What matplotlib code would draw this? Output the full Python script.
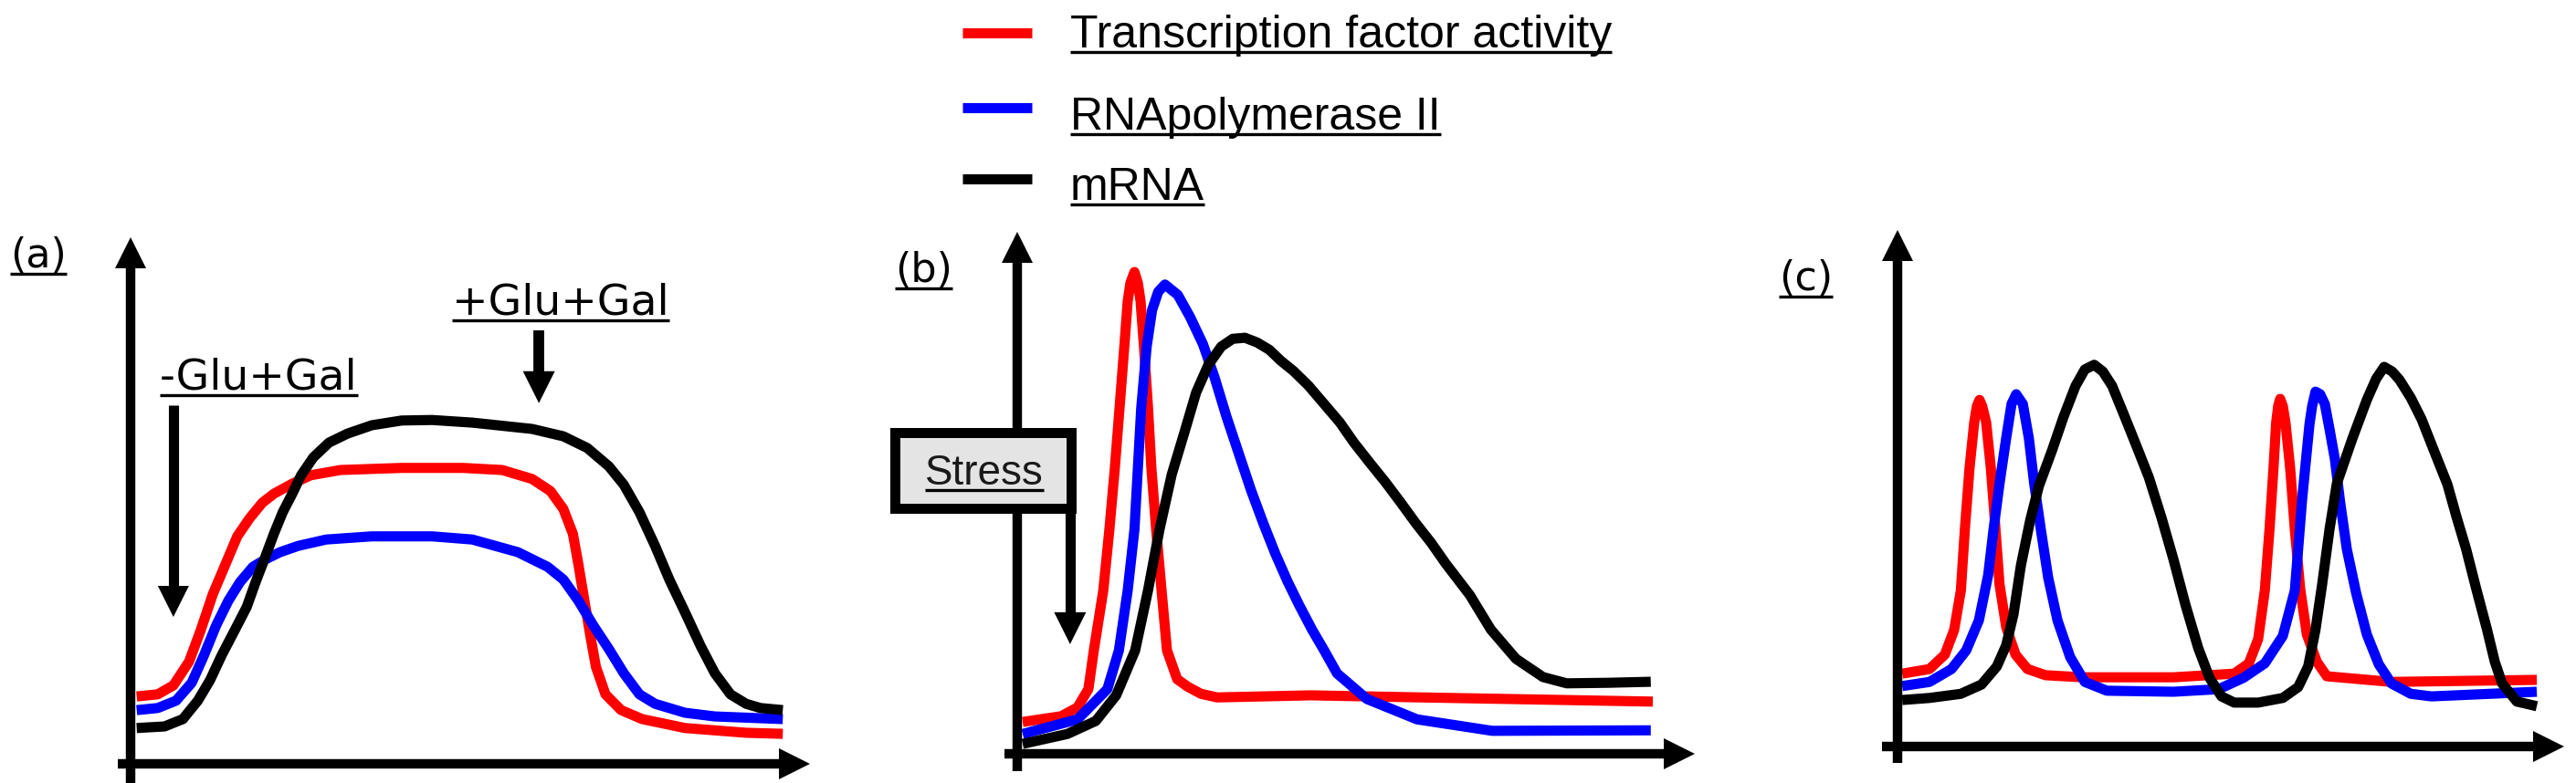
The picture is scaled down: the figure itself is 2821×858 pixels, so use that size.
import matplotlib
matplotlib.use("Agg")
import matplotlib.pyplot as plt
from matplotlib.lines import Line2D
from matplotlib.patches import Rectangle
import numpy as np

# ---- data (time / level, arbitrary units 0-100) ----
# (a) galactose switch
a_t_red = [0.9, 4.0, 6.3, 8.6, 10.3, 12.1, 14.0, 15.7, 17.5, 19.4, 21.1, 23.8, 26.5, 30.9, 39.9, 48.9, 54.7, 59.1, 61.8, 63.7, 65.1, 65.9, 66.8, 67.7, 68.5, 69.9, 72.2, 75.3, 81.6, 90.6, 96.0]
a_v_red = [12.8, 13.2, 14.9, 19.4, 25.3, 32.2, 38.0, 43.2, 46.6, 49.6, 51.3, 53.2, 54.8, 55.8, 56.2, 56.2, 55.8, 54.1, 51.8, 48.4, 43.7, 38.0, 31.0, 24.1, 18.4, 13.2, 10.2, 8.5, 6.8, 5.9, 5.7]
a_t_blue = [0.9, 4.0, 6.7, 9.0, 10.8, 12.6, 14.4, 16.1, 18.0, 19.8, 22.0, 24.7, 28.8, 35.5, 44.4, 50.3, 57.0, 61.4, 63.7, 65.9, 68.1, 70.4, 72.6, 74.9, 77.2, 81.6, 86.0, 96.0]
a_v_blue = [10.2, 10.6, 12.0, 15.4, 20.6, 26.3, 31.0, 34.5, 37.4, 38.8, 40.2, 41.4, 42.6, 43.2, 43.2, 42.6, 40.2, 37.4, 35.0, 31.0, 26.3, 21.8, 17.2, 13.2, 11.4, 9.7, 9.0, 8.5]
a_t_black = [0.9, 5.0, 7.7, 9.9, 11.7, 13.4, 15.3, 17.1, 18.4, 19.8, 21.1, 22.4, 23.8, 25.1, 26.9, 29.2, 31.9, 35.5, 39.9, 44.4, 50.3, 59.1, 63.7, 67.2, 70.4, 72.6, 74.9, 77.2, 79.3, 81.6, 83.9, 86.0, 88.3, 90.6, 92.7, 96.0]
a_v_black = [6.8, 7.1, 8.5, 12.0, 15.9, 20.6, 25.3, 29.8, 34.5, 39.2, 43.7, 47.8, 51.3, 54.8, 58.2, 61.0, 62.7, 64.3, 65.2, 65.3, 64.8, 63.6, 62.2, 60.0, 56.5, 53.0, 47.8, 41.4, 35.0, 28.8, 22.4, 17.2, 13.2, 11.4, 10.6, 10.2]

# (b) stress response
b_t_red = [0.8, 6.5, 8.9, 10.5, 11.3, 12.7, 13.6, 14.4, 15.1, 15.8, 16.3, 16.7, 17.3, 17.8, 18.2, 18.7, 19.3, 19.8, 20.5, 21.3, 22.1, 23.6, 25.1, 27.1, 29.5, 43.3, 59.6, 93.8]
b_v_red = [6.1, 7.2, 8.9, 12.4, 19.8, 31.3, 43.0, 54.7, 66.3, 78.0, 86.7, 90.2, 92.3, 90.2, 86.7, 78.0, 66.3, 54.7, 43.0, 31.3, 19.8, 14.3, 12.9, 11.5, 10.8, 11.2, 10.8, 10.0]
b_t_blue = [0.8, 8.9, 13.3, 15.0, 16.3, 17.3, 17.8, 18.3, 19.1, 19.9, 20.8, 21.8, 23.7, 25.5, 27.4, 29.1, 30.9, 32.7, 34.5, 36.3, 38.1, 39.9, 41.6, 43.5, 45.3, 47.2, 51.6, 59.0, 70.1, 93.5]
b_v_blue = [3.8, 6.6, 12.4, 19.8, 31.3, 43.0, 54.7, 66.3, 78.0, 85.0, 88.5, 89.9, 87.9, 83.7, 78.5, 72.2, 64.5, 57.5, 50.5, 44.2, 38.3, 33.0, 28.5, 23.8, 19.8, 15.4, 10.5, 6.6, 4.4, 4.5]
b_t_black = [0.8, 7.4, 11.6, 14.6, 17.4, 19.3, 21.0, 22.8, 24.7, 26.4, 28.2, 30.1, 31.8, 33.6, 35.4, 37.2, 38.9, 40.8, 43.0, 45.3, 47.6, 49.7, 52.0, 54.3, 56.5, 58.8, 61.1, 63.2, 66.8, 69.9, 73.6, 77.6, 81.1, 87.1, 93.5]
b_v_black = [1.9, 3.8, 6.3, 11.2, 19.8, 31.3, 43.0, 53.5, 61.7, 69.2, 74.5, 78.0, 79.5, 79.7, 78.8, 77.4, 75.3, 73.3, 70.5, 67.0, 63.5, 59.6, 55.8, 52.1, 48.3, 44.2, 40.4, 36.5, 30.4, 23.8, 18.2, 14.7, 13.5, 13.6, 13.8]

# (c) oscillation
c_t_red = [0.7, 4.8, 7.1, 8.5, 9.5, 10.1, 10.8, 11.5, 11.9, 12.3, 12.7, 13.3, 14.0, 14.7, 15.3, 16.3, 17.7, 19.5, 22.2, 27.7, 41.4, 50.5, 52.7, 54.1, 55.1, 55.8, 56.4, 56.8, 57.1, 57.4, 57.8, 58.2, 58.9, 59.6, 60.4, 61.4, 62.9, 64.4, 74.1, 95.9]
c_v_red = [14.1, 15.0, 17.8, 22.6, 30.2, 42.0, 53.9, 62.7, 65.9, 67.1, 65.9, 62.7, 53.9, 42.0, 31.4, 23.1, 17.8, 15.0, 13.8, 13.4, 13.4, 14.1, 16.1, 20.8, 30.2, 42.0, 53.9, 62.7, 65.9, 67.3, 65.9, 62.7, 53.9, 42.0, 30.6, 21.7, 16.4, 13.6, 12.5, 12.9]
c_t_blue = [0.7, 4.8, 8.1, 10.3, 12.2, 13.6, 14.4, 15.3, 16.3, 17.1, 17.8, 18.8, 19.7, 20.5, 21.5, 22.6, 24.0, 25.9, 28.1, 31.4, 41.4, 48.2, 51.9, 55.1, 57.8, 59.6, 60.7, 61.8, 62.2, 62.7, 63.4, 64.1, 64.8, 65.6, 66.4, 67.4, 68.8, 70.4, 72.2, 74.1, 77.0, 80.1, 95.9]
c_v_blue = [11.7, 12.5, 15.0, 18.6, 24.4, 33.2, 42.0, 50.9, 59.7, 66.3, 68.2, 66.3, 59.7, 50.9, 42.0, 32.7, 24.4, 17.3, 12.5, 10.8, 10.6, 11.1, 13.3, 16.1, 21.4, 30.2, 47.9, 62.4, 65.9, 68.7, 68.2, 66.3, 61.5, 55.7, 47.3, 38.2, 29.7, 21.7, 15.9, 12.2, 10.2, 9.7, 10.6]
c_t_black = [0.7, 4.8, 9.5, 12.6, 14.9, 16.3, 17.4, 18.5, 19.9, 21.2, 23.2, 24.9, 26.7, 28.1, 29.5, 30.8, 32.2, 34.1, 35.9, 37.7, 39.6, 41.4, 43.2, 45.1, 46.8, 48.6, 50.5, 54.1, 57.8, 60.1, 61.6, 62.7, 63.7, 64.8, 65.9, 68.2, 70.4, 71.8, 73.0, 74.2, 75.3, 77.0, 78.6, 80.5, 82.5, 83.8, 85.3, 86.8, 88.4, 89.6, 90.7, 92.9, 95.9]
c_v_black = [9.0, 9.4, 10.2, 12.0, 15.5, 19.6, 25.6, 35.0, 43.8, 50.4, 57.4, 63.8, 69.8, 73.0, 73.9, 72.6, 69.8, 63.8, 58.0, 52.1, 44.3, 36.2, 27.4, 19.1, 13.3, 9.7, 8.5, 8.5, 9.4, 11.5, 15.5, 22.6, 31.4, 42.0, 50.9, 59.5, 67.1, 71.2, 73.5, 72.6, 71.0, 67.5, 63.4, 57.2, 50.7, 44.7, 38.2, 30.6, 22.8, 16.4, 12.2, 8.7, 7.8]

series_names = ["Transcription factor activity", "RNApolymerase II", "mRNA"]
series_colors = ["#ff0000", "#0000ff", "#000000"]
panel_labels = ["(a)", "(b)", "(c)"]

W, H = 2821, 858
fig = plt.figure(figsize=(W / 100, H / 100), dpi=100)
renderer = fig.canvas.get_renderer()


def fx(x):
    return x / W


def fy(y):
    return 1 - y / H


def panel(x0, y0, x1, y1):
    ax = fig.add_axes([fx(x0), fy(y0), (x1 - x0) / W, (y0 - y1) / H])
    ax.set_xlim(0, 100)
    ax.set_ylim(0, 100)
    ax.axis("off")
    return ax


def arrow(ax, p0, p1, lw=7.5, head=34):
    a = ax.transData.transform(p0)
    b = ax.transData.transform(p1)
    d = (b - a) / np.hypot(*(b - a))
    s = ax.transData.inverted().transform(b - d * head * 0.6)
    ax.plot([p0[0], s[0]], [p0[1], s[1]], color="k", lw=lw,
            solid_capstyle="butt", clip_on=False, zorder=4)
    hp = head * 0.72
    ax.annotate("", xy=p1, xytext=p0, annotation_clip=False,
                arrowprops=dict(arrowstyle=f"-|>,head_length={hp},head_width={hp / 2}",
                                mutation_scale=1, lw=0, color="k",
                                shrinkA=0, shrinkB=0, zorder=4))


def underline(t, gap, lw=2.4):
    bb = t.get_window_extent(renderer)
    base = t.get_transform().transform(t.get_position())[1]
    inv = fig.transFigure.inverted()
    (x0, y), (x1, _) = inv.transform([(bb.x0, base - gap), (bb.x1, base - gap)])
    fig.add_artist(Line2D([x0, x1], [y, y], color="k", lw=lw, solid_capstyle="butt", zorder=10))


ax_a = panel(143, 837, 887, 260)
ax_b = panel(1114, 826, 1856, 254)
ax_c = panel(2078, 818, 2808, 252)

curves = [
    (ax_a, [(a_t_red, a_v_red), (a_t_blue, a_v_blue), (a_t_black, a_v_black)]),
    (ax_b, [(b_t_red, b_v_red), (b_t_blue, b_v_blue), (b_t_black, b_v_black)]),
    (ax_c, [(c_t_red, c_v_red), (c_t_blue, c_v_blue), (c_t_black, c_v_black)]),
]
for ax, lines in curves:
    for (t, v), col in zip(lines, series_colors):
        ax.plot(t, v, color=col, lw=8, solid_capstyle="butt",
                solid_joinstyle="round", zorder=3)

# axes arrows
for ax, ybot, xleft in [(ax_a, -3.6, -1.9), (ax_b, -3.3, -1.9), (ax_c, -3.2, -2.3)]:
    arrow(ax, (0, ybot), (0, 100))
    arrow(ax, (xleft, 0), (100, 0))

# panel labels
for lab, x, base in zip(panel_labels, [11, 980, 1948], [293, 309, 318]):
    t = fig.text(fx(x), fy(base), lab, fontsize=32, family="DejaVu Sans", va="baseline")
    underline(t, 7)

# legend
for name, col, ly, base in zip(series_names, series_colors, [36, 118, 196], [52, 142, 219]):
    fig.add_artist(Line2D([fx(1054), fx(1130)], [fy(ly)] * 2, color=col, lw=8,
                          solid_capstyle="butt"))
    t = fig.text(fx(1172), fy(base), name, fontsize=36, family="Liberation Sans", va="baseline")
    underline(t, 5)

# (a) annotations
t = ax_a.text(4.3, 71.1, "-Glu+Gal", fontsize=34, family="DejaVu Sans", va="baseline")
underline(t, 6)
arrow(ax_a, (6.3, 68.1), (6.3, 27.9), lw=8, head=34)
t = ax_a.text(47.3, 85.4, "+Glu+Gal", fontsize=34, family="DejaVu Sans", va="baseline")
underline(t, 7)
arrow(ax_a, (60.1, 82.3), (60.1, 68.5), lw=8.5, head=35)

# (b) stress box
ax_b.add_patch(Rectangle((-18.0, 47.0), 25.9, 14.5, lw=7.9, ec="k", fc="#e4e4e4",
                         clip_on=False, zorder=5))
t = ax_b.text(-13.6, 51.6, "Stress", fontsize=33, family="Liberation Sans",
              va="baseline", color="#1a1a1a", zorder=6)
underline(t, 6)
arrow(ax_b, (7.8, 47.0), (7.8, 21.0), lw=8, head=35)

fig.savefig("out.png", dpi=100)
